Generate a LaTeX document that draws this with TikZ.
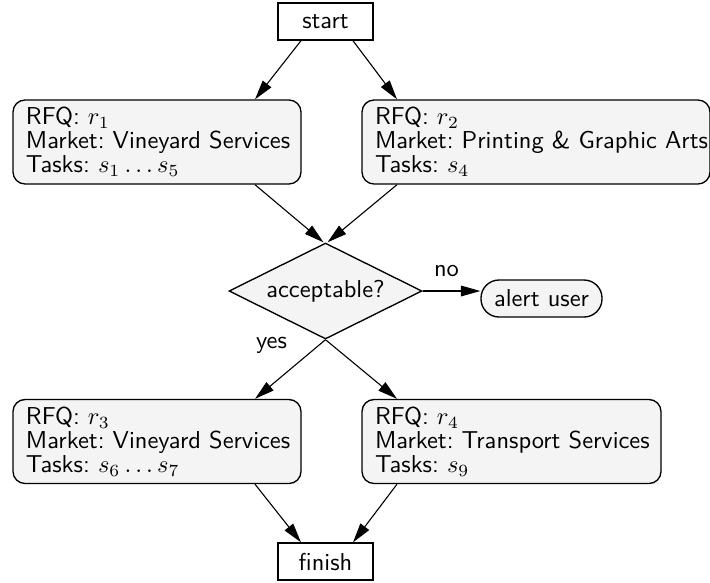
\documentclass[tikz,border=0pt]{standalone}
\usetikzlibrary{shapes.geometric,arrows.meta,calc}
\definecolor{boxfill}{RGB}{244,244,244}
% one drawing unit
\newdimen\px
\px=0.409pt
\newcommand{\textline}[1]{\mbox{#1}}
\begin{document}
\begin{tikzpicture}[x=\px,y=-\px,
  font=\fontsize{10}{9.8}\selectfont\sffamily\frenchspacing,
  arr/.style={line width=0.45pt,-{Triangle[length=8pt,width=4.4pt]}},
  term/.style={draw,line width=0.55pt,fill=white,minimum width=95*\px,minimum height=37*\px,inner sep=0pt},
  rfq/.style={draw,line width=0.55pt,fill=boxfill,rounded corners=12*\px,align=left,
    inner xsep=13*\px,inner ysep=0pt,minimum height=84*\px},
  decision/.style={draw,line width=0.55pt,fill=boxfill,diamond,aspect=2,inner sep=0pt,
    minimum width=193*\px,minimum height=96*\px},
  alertbox/.style={draw,line width=0.55pt,fill=boxfill,rounded corners=18*\px,
    minimum width=121*\px,minimum height=37*\px,inner sep=0pt},
  lbl/.style={inner sep=0pt}]
\useasboundingbox (0,0) rectangle (710,582);

\node[term] (start) at (325.5,21.5) {start};
\node[rfq,text width=262*\px] (r1) at (157,142)
  {\textline{RFQ: $r_1$}\\\textline{Market: Vineyard Services}\\\textline{Tasks: $s_1\ldots s_5$}};
\node[rfq,text width=322*\px] (r2) at (536,142)
  {\textline{RFQ: $r_2$}\\\textline{Market: Printing \& Graphic Arts}\\\textline{Tasks: $s_4$}};
\node[decision] (dec) at (325.5,291) {acceptable?};
\node[alertbox] (alert) at (541.5,298.5) {alert user};
\node[rfq,text width=262*\px] (r3) at (157,441.5)
  {\textline{RFQ: $r_3$}\\\textline{Market: Vineyard Services}\\\textline{Tasks: $s_6\ldots s_7$}};
\node[rfq,text width=273*\px] (r4) at (511.5,441.5)
  {\textline{RFQ: $r_4$}\\\textline{Market: Transport Services}\\\textline{Tasks: $s_9$}};
\node[term] (finish) at (325.5,561.5) {finish};

\draw[arr] ([xshift=-24.5*\px]start.south) -- ([xshift=98*\px]r1.north);
\draw[arr] ([xshift=27.5*\px]start.south) -- ([xshift=-139*\px]r2.north);
\draw[arr] ([xshift=98*\px]r1.south) -- ([xshift=-2*\px]dec.north);
\draw[arr] ([xshift=-139*\px]r2.south) -- ([xshift=2*\px]dec.north);
\draw[arr] (dec.east) -- node[lbl,midway,above=14*\px,xshift=-5*\px] {no} (dec.east -| alert.west);
\draw[arr] (dec.south) -- node[lbl,pos=0.1,left=31*\px] {yes} ([xshift=98*\px]r3.north);
\draw[arr] (dec.south) -- ([xshift=-114.5*\px]r4.north);
\draw[arr] ([xshift=98*\px]r3.south) -- ([xshift=-24.5*\px]finish.north);
\draw[arr] ([xshift=-114.5*\px]r4.south) -- ([xshift=27.5*\px]finish.north);
\end{tikzpicture}
\end{document}
